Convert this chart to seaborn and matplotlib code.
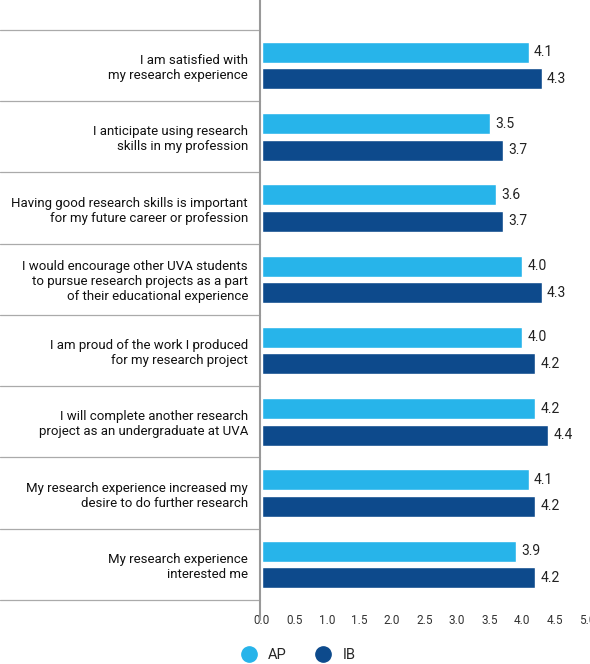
import matplotlib
matplotlib.use("Agg")
import matplotlib.pyplot as plt
import matplotlib.transforms as mtransforms
from matplotlib.lines import Line2D
import seaborn as sns
import pandas as pd

categories = [
    "I am satisfied with\nmy research experience",
    "I anticipate using research\nskills in my profession",
    "Having good research skills is important\nfor my future career or profession",
    "I would encourage other UVA students\nto pursue research projects as a part\nof their educational experience",
    "I am proud of the work I produced\nfor my research project",
    "I will complete another research\nproject as an undergraduate at UVA",
    "My research experience increased my\ndesire to do further research",
    "My research experience\ninterested me",
]
ap = [4.1, 3.5, 3.6, 4.0, 4.0, 4.2, 4.1, 3.9]
ib = [4.3, 3.7, 3.7, 4.3, 4.2, 4.4, 4.2, 4.2]
xticks = [0.0, 0.5, 1.0, 1.5, 2.0, 2.5, 3.0, 3.5, 4.0, 4.5, 5.0]

sns.set_style("white")
plt.rcParams["font.family"] = ["Roboto", "DejaVu Sans"]

df = pd.DataFrame({
    "cat": categories * 2,
    "val": ap + ib,
    "grp": ["AP"] * len(ap) + ["IB"] * len(ib),
})
colors = {"AP": "#27b4ea", "IB": "#0d4a8c"}

fig = plt.figure(figsize=(5.9, 6.64), dpi=100)
ax = fig.add_axes([262 / 590, 1 - 600 / 664, 325 / 590, 600 / 664])
sns.barplot(data=df, x="val", y="cat", hue="grp", palette=colors, ax=ax,
            width=0.74, gap=0.2, legend=False, errorbar=None, saturation=1)
ax.set_xlim(0, 5)
ax.set_ylim(7.5, -0.5 - 30 / 71.25)
for cont in ax.containers:
    ax.bar_label(cont, fmt="%.1f", padding=4, fontsize=10, color="#222")

ax.set_xticks(xticks)
ax.set_xticklabels([f"{t:.1f}" for t in xticks], fontsize=8.5, color="#333")
offset = mtransforms.ScaledTranslation(-12 / 100, 0, fig.dpi_scale_trans)
for lab in ax.get_xticklabels():
    lab.set_transform(lab.get_transform() + offset)
ax.tick_params(axis="x", length=0, pad=10)
ax.tick_params(axis="y", length=0, pad=10)
ax.set_yticks(range(len(categories)))
ax.set_yticklabels(categories, fontsize=9.5, color="#111", ha="right")
ax.set_xlabel("")
ax.set_ylabel("")
for s in ax.spines.values():
    s.set_visible(False)

trans = mtransforms.blended_transform_factory(ax.transAxes, ax.transData)
for b in [i - 0.5 for i in range(len(categories) + 1)]:
    ax.plot([-262 / 325, -0.006], [b, b], transform=trans, color="#aaaaaa",
            lw=0.9, clip_on=False)
ax.plot([-0.006, -0.006], [-0.5 - 30 / 71.25, 7.5 + 20 / 71.25], transform=trans,
        color="#999999", lw=1.5, clip_on=False)

handles = [Line2D([], [], marker="o", ls="", markersize=11, color=colors[k]) for k in ["AP", "IB"]]
fig.legend(handles, ["AP", "IB"], loc="center", bbox_to_anchor=(0.5, 1 - 655 / 664),
           ncol=2, frameon=False, fontsize=10.5, handletextpad=0.3, columnspacing=1.5)

fig.savefig("out.png", dpi=100)
